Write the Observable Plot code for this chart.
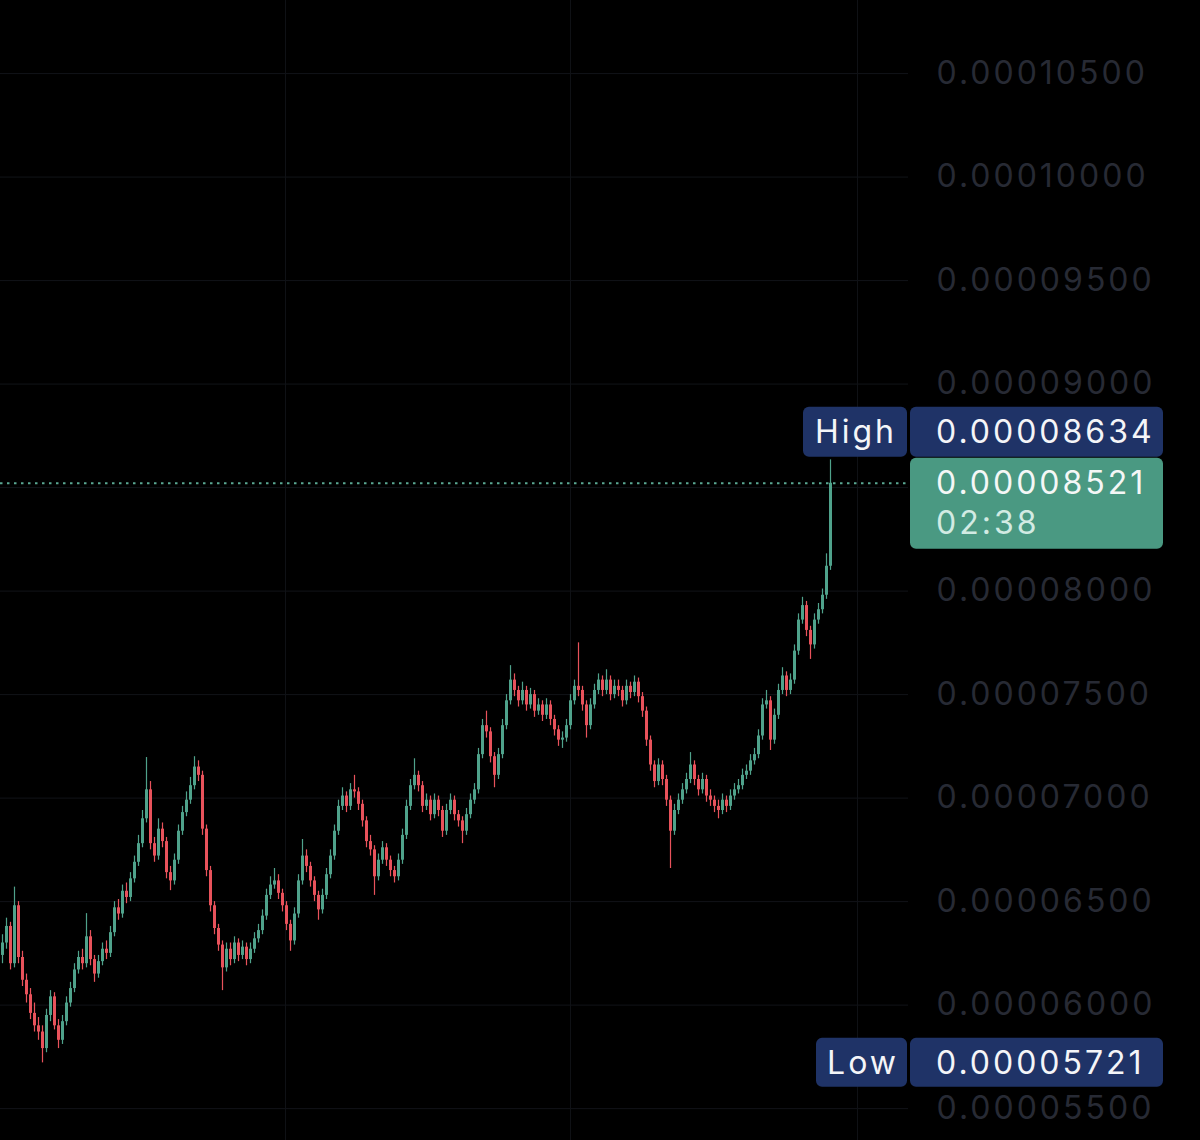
<!DOCTYPE html>
<html>
<head>
<meta charset="utf-8">
<script src="https://cdn.jsdelivr.net/npm/d3@7"></script>
<script src="https://cdn.jsdelivr.net/npm/@observablehq/plot@0.6"></script>
<style>
  html, body { margin: 0; padding: 0; background: #000; }
  #chart svg { display: block; }
  #chart text { letter-spacing: 3px; }
</style>
</head>
<body>
<div id="chart"></div>
<script>
// Prices are written in units of 1e-8
const UNIT = 1e-8;
const firstOpen = 6240;

const closes = [
  6300, 6380, 6200, 6480, 6230, 6120, 6050, 5960, 5900, 5870,
  5790, 5950, 6040, 5900, 5830, 5920, 6010, 6080, 6170, 6230,
  6200, 6330, 6220, 6150, 6210, 6270, 6250, 6350, 6470, 6440,
  6550, 6520, 6610, 6690, 6780, 6900, 7040, 6780, 6720, 6850,
  6790, 6640, 6600, 6700, 6840, 6930, 6990, 7060, 7150, 7110,
  6850, 6650, 6480, 6370, 6290, 6180, 6270, 6220, 6300, 6240,
  6280, 6220, 6270, 6320, 6360, 6430, 6530, 6580, 6600, 6540,
  6480, 6390, 6310, 6440, 6600, 6720, 6670, 6600, 6530, 6460,
  6530, 6630, 6720, 6840, 6960, 7010, 6960, 7040, 7030, 6970,
  6890, 6790, 6750, 6620, 6700, 6760, 6700, 6650, 6620, 6700,
  6820, 6960, 7060, 7110, 7060, 6960, 6990, 6920, 6990, 6940,
  6840, 6940, 6990, 6920, 6890, 6840, 6920, 6990, 7040, 7210,
  7350, 7320, 7200, 7110, 7210, 7350, 7470, 7570, 7520, 7470,
  7520, 7450, 7500, 7420, 7450, 7400, 7450, 7380, 7330, 7280,
  7290, 7350, 7470, 7540, 7520, 7450, 7350, 7450, 7520, 7570,
  7520, 7570, 7500, 7540, 7520, 7470, 7540, 7510, 7560, 7490,
  7420, 7280, 7160, 7080, 7160, 7090, 6990, 6840, 6940, 6990,
  7040, 7090, 7160, 7090, 7040, 7090, 7010, 6990, 6960, 6940,
  6990, 6960, 7010, 7040, 7060, 7110, 7130, 7180, 7210, 7300,
  7450, 7470, 7280, 7400, 7520, 7590, 7520, 7570, 7710, 7860,
  7930, 7810, 7740, 7860, 7910, 7980, 8120, 8521
];

const highs = [
  6340, 6420, 6400, 6570, 6500, 6260, 6150, 6080, 6010, 5940,
  5900, 5980, 6070, 6060, 5930, 5950, 6040, 6110, 6200, 6260,
  6270, 6442, 6360, 6240, 6240, 6300, 6310, 6380, 6500, 6510,
  6580, 6590, 6640, 6720, 6820, 6940, 7196, 7080, 6810, 6900,
  6880, 6810, 6670, 6730, 6870, 6960, 7030, 7100, 7200, 7180,
  7130, 6870, 6670, 6500, 6390, 6310, 6300, 6300, 6330, 6320,
  6310, 6300, 6300, 6350, 6390, 6460, 6560, 6620, 6660, 6630,
  6560, 6500, 6410, 6470, 6630, 6800, 6750, 6690, 6620, 6550,
  6560, 6660, 6750, 6870, 6990, 7050, 7030, 7070, 7110, 7050,
  6990, 6910, 6820, 6770, 6730, 6790, 6780, 6720, 6670, 6730,
  6850, 6990, 7090, 7190, 7130, 7080, 7020, 7010, 7020, 7010,
  6960, 6970, 7020, 7010, 6940, 6910, 6950, 7020, 7070, 7240,
  7380, 7420, 7340, 7220, 7240, 7380, 7500, 7640, 7600, 7540,
  7560, 7540, 7530, 7520, 7480, 7470, 7480, 7470, 7400, 7350,
  7320, 7380, 7500, 7570, 7750, 7540, 7470, 7480, 7550, 7600,
  7590, 7620, 7590, 7570, 7570, 7540, 7570, 7560, 7590, 7580,
  7510, 7440, 7300, 7180, 7190, 7180, 7110, 7010, 6970, 7020,
  7070, 7120, 7220, 7180, 7110, 7120, 7110, 7040, 7010, 6990,
  7020, 7010, 7040, 7070, 7090, 7140, 7160, 7210, 7240, 7330,
  7480, 7520, 7490, 7430, 7550, 7630, 7610, 7600, 7740, 7890,
  7970, 7950, 7830, 7890, 7940, 8010, 8180, 8634
];

const lows = [
  6200, 6270, 6170, 6180, 6200, 6090, 6010, 5930, 5870, 5830,
  5721, 5770, 5920, 5880, 5790, 5810, 5900, 5990, 6060, 6150,
  6170, 6180, 6190, 6110, 6130, 6190, 6220, 6230, 6330, 6410,
  6420, 6490, 6500, 6590, 6670, 6760, 6880, 6750, 6690, 6700,
  6760, 6610, 6553, 6580, 6680, 6820, 6910, 6970, 7040, 7080,
  6820, 6620, 6450, 6340, 6260, 6070, 6160, 6190, 6200, 6210,
  6220, 6190, 6200, 6250, 6300, 6340, 6410, 6510, 6560, 6510,
  6450, 6360, 6260, 6290, 6420, 6580, 6640, 6570, 6500, 6410,
  6440, 6510, 6610, 6700, 6820, 6940, 6930, 6940, 7000, 6940,
  6860, 6760, 6720, 6530, 6600, 6680, 6670, 6620, 6590, 6600,
  6680, 6800, 6940, 7040, 7030, 6930, 6940, 6890, 6900, 6910,
  6810, 6820, 6920, 6890, 6860, 6780, 6820, 6900, 6970, 7020,
  7190, 7290, 7170, 7050, 7090, 7190, 7330, 7450, 7490, 7440,
  7450, 7420, 7430, 7390, 7400, 7370, 7380, 7350, 7300, 7250,
  7240, 7270, 7330, 7450, 7490, 7420, 7290, 7330, 7430, 7500,
  7490, 7500, 7470, 7480, 7490, 7440, 7450, 7480, 7490, 7460,
  7390, 7250, 7130, 7050, 7060, 7060, 6960, 6660, 6820, 6920,
  6970, 7020, 7070, 7060, 7010, 7020, 6980, 6960, 6930, 6900,
  6920, 6930, 6940, 6990, 7020, 7040, 7090, 7110, 7160, 7190,
  7280, 7430, 7230, 7260, 7380, 7500, 7490, 7500, 7550, 7690,
  7840, 7780, 7670, 7720, 7840, 7890, 7960, 8100
];

const yTicks = [5500, 6000, 6500, 7000, 7500, 8000, 8500, 9000, 9500, 10000, 10500];
// tick labels shown on the price scale (0.00008500 is hidden behind the live price tag)
const yLabelTicks = [5500, 6000, 6500, 7000, 7500, 8000, 9000, 9500, 10000, 10500];
const timeGrid = [70.75, 142, 213.75];   // candle positions of the vertical time grid
const countdown = "02:38";
const highLabel = "High";
const lowLabel = "Low";

// Build candle table (open = previous close)
const candles = closes.map((c, i) => ({
  i,
  open: (i === 0 ? firstOpen : closes[i - 1]) * UNIT,
  close: c * UNIT,
  high: highs[i] * UNIT,
  low: lows[i] * UNIT
}));
candles.forEach(d => d.up = d.close >= d.open);

const lastClose = closes[closes.length - 1] * UNIT;
const maxHigh = d3.max(highs) * UNIT;
const minLow = d3.min(lows) * UNIT;
const fmt = v => v.toFixed(8);

const UP = "#4fa28b", DOWN = "#e8525b";
const NAVY = "#1f3367", GREEN_BOX = "#4a9982";
const FONT = "Inter, 'Open Sans', sans-serif";

function priceLabels(index, scales, values, dims) {
  const y = scales.y;
  const right = dims.width - dims.marginRight;
  const boxX = right + 2, boxW = 253, textX = right + 28;
  const g = d3.create("svg:g")
    .attr("font-family", FONT)
    .attr("font-size", 32)
    .attr("text-anchor", "start");

  const pyLast = y(lastClose), pyHigh = y(maxHigh), pyLow = y(minLow);

  // current price box
  const gTop = pyLast - 25, gH = 91;
  g.append("rect").attr("x", boxX).attr("y", gTop).attr("width", boxW).attr("height", gH)
    .attr("rx", 6).attr("fill", GREEN_BOX);
  g.append("text").attr("x", textX).attr("y", pyLast).attr("dy", "0.36em")
    .attr("text-anchor", "start").attr("fill", "#f4f7f6").text(fmt(lastClose));
  g.append("text").attr("x", textX).attr("y", pyLast + 40).attr("dy", "0.36em")
    .attr("text-anchor", "start").attr("fill", "#d2ebe3").text(countdown);

  // High box (sits just above the current price box)
  const hH = 50, hTop = Math.min(pyHigh, gTop) - 1 - hH, hMid = hTop + hH / 2;
  g.append("rect").attr("x", right - 105).attr("y", hTop).attr("width", 104).attr("height", hH)
    .attr("rx", 6).attr("fill", NAVY);
  g.append("rect").attr("x", boxX).attr("y", hTop).attr("width", boxW).attr("height", hH)
    .attr("rx", 6).attr("fill", NAVY);
  g.append("text").attr("x", right - 52).attr("y", hMid).attr("dy", "0.36em")
    .attr("text-anchor", "middle").attr("fill", "#f4f5f8").text(highLabel);
  g.append("text").attr("x", textX).attr("y", hMid).attr("dy", "0.36em")
    .attr("text-anchor", "start").attr("fill", "#f4f5f8").text(fmt(maxHigh));

  // Low box (centred on the low)
  const lH = 49, lTop = pyLow - lH / 2;
  g.append("rect").attr("x", right - 92).attr("y", lTop).attr("width", 91).attr("height", lH)
    .attr("rx", 6).attr("fill", NAVY);
  g.append("rect").attr("x", boxX).attr("y", lTop).attr("width", boxW).attr("height", lH)
    .attr("rx", 6).attr("fill", NAVY);
  g.append("text").attr("x", right - 45).attr("y", pyLow).attr("dy", "0.36em")
    .attr("text-anchor", "middle").attr("fill", "#f4f5f8").text(lowLabel);
  g.append("text").attr("x", textX).attr("y", pyLow).attr("dy", "0.36em")
    .attr("text-anchor", "start").attr("fill", "#f4f5f8").text(fmt(minLow));
  return g.node();
}

const chart = Plot.plot({
  width: 1200,
  height: 1140,
  marginTop: 0,
  marginBottom: 0,
  marginLeft: 0,
  marginRight: 292,
  style: { background: "#000", fontFamily: FONT },
  x: { domain: [-0.5, 226.5], axis: null },
  y: { domain: [5346 * UNIT, 10853 * UNIT], axis: null },
  marks: [
    Plot.ruleY(yTicks.map(v => v * UNIT), { stroke: "#111318", strokeWidth: 1 }),
    Plot.ruleX(timeGrid, { stroke: "#0f1115", strokeWidth: 1 }),
    Plot.text(yLabelTicks.map(v => v * UNIT), {
      y: d => d, text: d => fmt(d), frameAnchor: "right", textAnchor: "start",
      dx: 28, fontSize: 32, fill: "#272a34"
    }),
    Plot.ruleX(candles, { x: "i", y1: "low", y2: "high", stroke: d => d.up ? UP : DOWN, strokeWidth: 1.2 }),
    Plot.ruleX(candles, { x: "i", y1: "open", y2: "close", stroke: d => d.up ? UP : DOWN, strokeWidth: 3 }),
    Plot.ruleY([lastClose], { stroke: "#5aa893", strokeWidth: 2, strokeDasharray: "2.5,4.5" }),
    priceLabels
  ]
});

document.getElementById("chart").appendChild(chart);
</script>
</body>
</html>
